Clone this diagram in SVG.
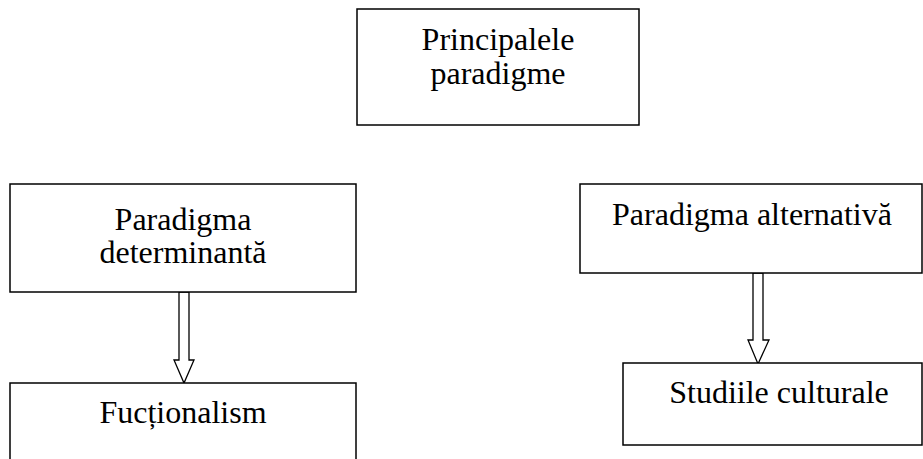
<svg xmlns="http://www.w3.org/2000/svg" width="923" height="459" viewBox="0 0 923 459">
<style>
.box{fill:#fff;stroke:#000;stroke-width:1.5}
.t{font-family:"Liberation Serif","Times New Roman",serif;font-size:32px;fill:#000;text-anchor:middle}
.arr{fill:#fff;stroke:#000;stroke-width:1.3}
</style>
<rect width="923" height="459" fill="#fff"/>
<g id="connectors">
<path class="arr" d="M179,292 L189,292 L189,360 L194,360 L184,383 L174,360 L179,360 Z"/>
<path class="arr" d="M753,273 L763,273 L763,340 L769,340 L758,364 L748,340 L753,340 Z"/>
</g>
<g id="n-principal">
<rect class="box" x="357" y="9" width="282" height="116"/>
<text class="t" x="498" y="50">Principalele</text>
<text class="t" x="498" y="84">paradigme</text>
</g>
<g id="n-determinanta">
<rect class="box" x="10" y="184" width="346" height="108"/>
<text class="t" x="183" y="230">Paradigma</text>
<text class="t" x="183" y="263">determinantă</text>
</g>
<g id="n-alternativa">
<rect class="box" x="580" y="184" width="342" height="89"/>
<text class="t" x="752" y="225">Paradigma alternativă</text>
</g>
<g id="n-functionalism">
<rect class="box" x="10" y="383" width="346" height="90"/>
<text class="t" x="183" y="423">Fucționalism</text>
</g>
<g id="n-studiile">
<rect class="box" x="623" y="363" width="299" height="82"/>
<text class="t" x="779" y="403">Studiile culturale</text>
</g>
</svg>
